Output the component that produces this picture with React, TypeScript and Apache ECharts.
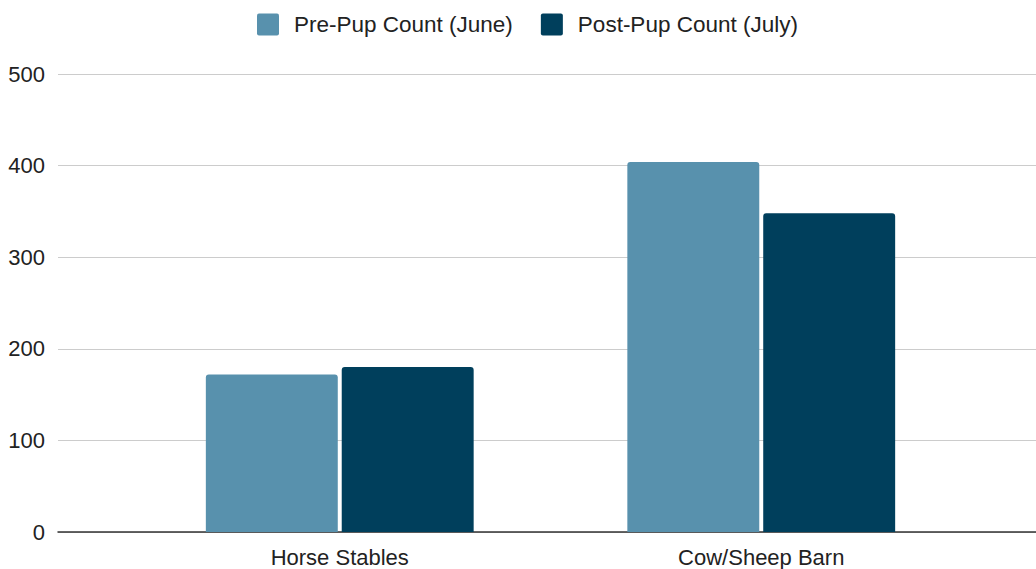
import React, { useEffect, useRef } from "react";
import * as echarts from "echarts";

const categories = ["Horse Stables", "Cow/Sheep Barn"];
const preNames = "Pre-Pup Count (June)";
const postNames = "Post-Pup Count (July)";
const preValues = [172, 404];
const postValues = [180, 348];
const yTicks = [0, 100, 200, 300, 400, 500];

export default function App() {
  const ref = useRef<HTMLDivElement>(null);
  useEffect(() => {
    if (!ref.current) return;
    const chart = echarts.init(ref.current, null, { renderer: "svg" });
    const font = "'Liberation Sans', Arial, sans-serif";
    const icon = "path://M2,0 L20,0 Q22,0 22,2 L22,20 Q22,22 20,22 L2,22 Q0,22 0,20 L0,2 Q0,0 2,0 Z";
    chart.setOption({
      animation: false,
      color: ["#5891ad", "#003f5c"],
      legend: {
        top: 8,
        left: 252,
        itemWidth: 22,
        itemHeight: 22,
        itemGap: 28,
        icon,
        textStyle: { fontSize: 22.5, color: "#222", fontFamily: font, padding: [0, 0, 0, 10] },
        data: [preNames, postNames],
      },
      grid: [
        { left: 58, right: 0, top: 74, bottom: 37 },
        { left: 129, right: 64, top: 74, bottom: 37 },
      ],
      xAxis: [
        {
          type: "category",
          gridIndex: 0,
          data: [""],
          axisLine: { show: true, lineStyle: { color: "#333", width: 1.5 } },
          axisTick: { show: false },
          axisLabel: { show: false },
        },
        {
          type: "category",
          gridIndex: 1,
          data: categories,
          axisLine: { show: false },
          axisTick: { show: false },
          axisLabel: { fontSize: 22, color: "#222", fontFamily: font, margin: 14 },
        },
      ],
      yAxis: [
        {
          type: "value",
          gridIndex: 0,
          min: yTicks[0],
          max: yTicks[yTicks.length - 1],
          interval: 100,
          axisLine: { show: false },
          axisTick: { show: false },
          axisLabel: { fontSize: 22, color: "#222", fontFamily: font, margin: 13 },
          splitLine: { lineStyle: { color: "#cccccc", width: 1 } },
        },
        {
          type: "value",
          gridIndex: 1,
          min: yTicks[0],
          max: yTicks[yTicks.length - 1],
          interval: 100,
          show: false,
          splitLine: { show: false },
        },
      ],
      series: [
        {
          name: preNames,
          type: "bar",
          xAxisIndex: 1,
          yAxisIndex: 1,
          data: preValues,
          barWidth: "31.3%",
          barGap: "3%",
          itemStyle: { borderRadius: [3, 3, 0, 0] },
        },
        {
          name: postNames,
          type: "bar",
          xAxisIndex: 1,
          yAxisIndex: 1,
          data: postValues,
          barWidth: "31.3%",
          barGap: "3%",
          itemStyle: { borderRadius: [3, 3, 0, 0] },
        },
      ],
    });
    return () => chart.dispose();
  }, []);
  return <div ref={ref} style={{ width: 1036, height: 569, position: "absolute", left: 0, top: 0 }} />;
}
